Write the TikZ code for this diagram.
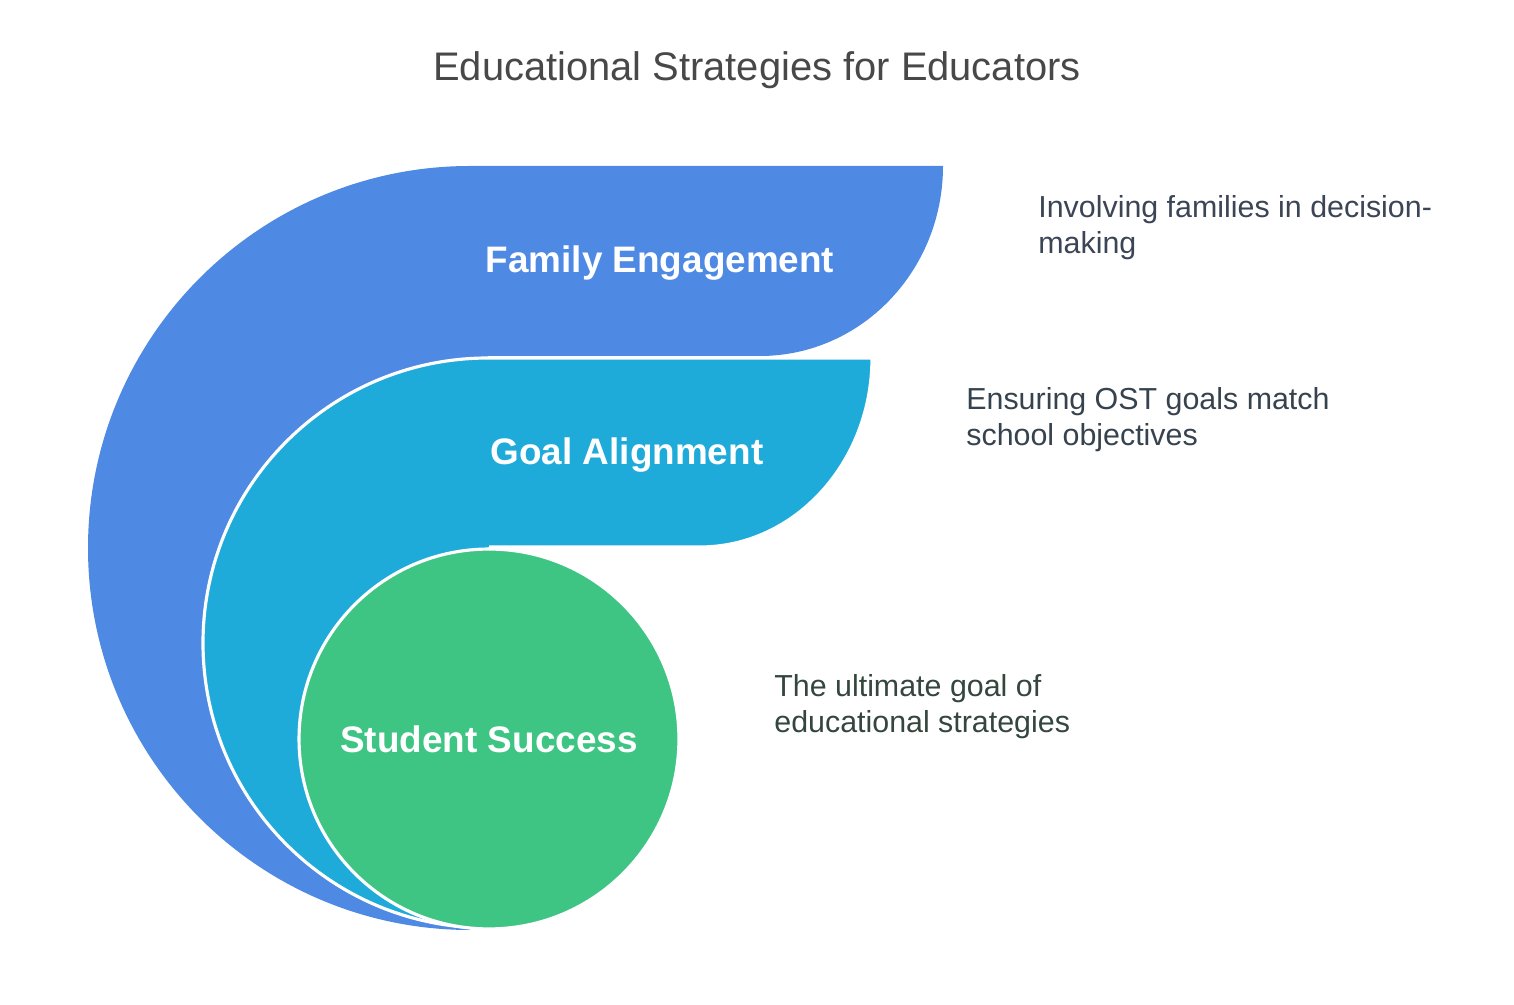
\documentclass[tikz,border=0pt]{standalone}
\usepackage{fontspec}
\setmainfont{Liberation Sans}
\definecolor{famblue}{HTML}{4E89E4}
\definecolor{goalcyan}{HTML}{1FABD9}
\definecolor{studgreen}{HTML}{3EC584}
\definecolor{titlegray}{HTML}{484848}
\definecolor{famtext}{HTML}{3B4556}
\definecolor{goaltext}{HTML}{36434F}
\definecolor{studtext}{HTML}{34463E}
\begin{document}
\begin{tikzpicture}[x=0.02cm,y=0.02cm,
    band/.style={draw=white,line width=1.8pt},
    lbl/.style={text=white,font=\fontsize{21}{25}\selectfont\bfseries},
    desc/.style={anchor=west,align=left,inner sep=0pt,font=\fontsize{17.3}{20.5}\selectfont}]
  \useasboundingbox (0,0) rectangle (1514,1004);
  \node[text=titlegray,font=\fontsize{22.7}{26}\selectfont] (title) at (757,934) {Educational Strategies for Educators};
  % outer band
  \fill[famblue] (470,74) arc (270:90:382) -- (943,838) .. controls (943,733) and (861,648) .. (760,648)
    -- (488,648) -- cycle;
  % middle band
  \fill[goalcyan] (488,76) arc (270:90:285) -- (872,646) .. controls (872,542) and (795,457) .. (700,457)
    -- (488,457) -- cycle;
  \draw[band] (488,76) arc (270:90:285) -- (872,646) .. controls (872,542) and (795,457) .. (700,457)
    -- (489,457);
  % core
  \node[circle,band,fill=studgreen,minimum size=7.6cm,inner sep=0pt] (student) at (489,265) {};
  \node[lbl] (famlbl) at (660,741) {Family Engagement};
  \node[lbl] (goallbl) at (627,549) {Goal Alignment};
  \node[lbl] (studlbl) at (student.center) {Student Success};
  \node[desc,text=famtext] (famdesc) at (1038,776) {Involving families in decision-\\making};
  \node[desc,text=goaltext] (goaldesc) at (966,584) {Ensuring OST goals match\\school objectives};
  \node[desc,text=studtext] (studdesc) at (774,297) {The ultimate goal of\\educational strategies};
\end{tikzpicture}
\end{document}
